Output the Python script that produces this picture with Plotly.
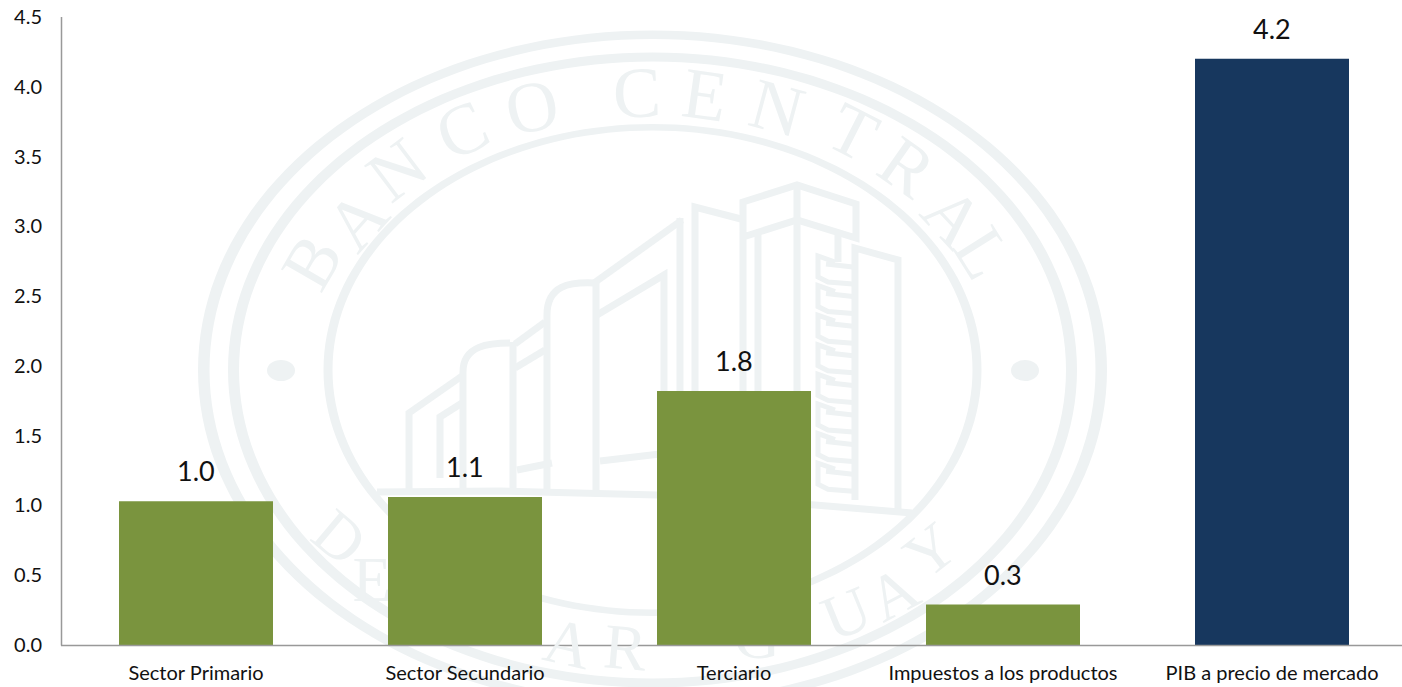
import numpy as np
import plotly.graph_objects as go

categories = ["Sector Primario", "Sector Secundario", "Terciario", "Impuestos a los productos", "PIB a precio de mercado"]
values = [1.03, 1.06, 1.82, 0.29, 4.20]
value_labels = ["1.0", "1.1", "1.8", "0.3", "4.2"]
bar_colors = ["#7A943E", "#7A943E", "#7A943E", "#7A943E", "#17375E"]
y_ticks = [0.0, 0.5, 1.0, 1.5, 2.0, 2.5, 3.0, 3.5, 4.0, 4.5]

W, H = 1402, 687
L, R, T, B = 62, 1402, 17, 645
MARK = "#EEF2F3"
AXIS = "#999999"
XR = [-0.5 - 0.5 / 269.0 + 1 / 269.0, -0.5 + 0.5 / 269.0 + (R - L) / 269.0]
YR = [0, 4.5]

def xp(px): return (px - L) / (R - L)
def yp(py): return (B - py) / (B - T)
def xd(px): return XR[0] + (px - L) / 269.0
def yd(py): return (B - py) / (B - T) * 4.5

def ring(rx1, ry1, rx2, ry2, cx=652.5, cy=370):
    t = np.linspace(0, 2 * np.pi, 181)
    path = ""
    for rx, ry in ((rx1, ry1), (rx2, ry2)):
        pts = [f"{xp(cx + rx * np.cos(a)):.5f},{yp(cy + ry * np.sin(a)):.5f}" for a in t]
        path += "M" + " L".join(pts) + " Z "
    return dict(type="path", xref="paper", yref="paper", path=path, layer="below",
                fillcolor=MARK, line=dict(width=0), fillrule="evenodd")

def poly(pts, width=7):
    path = "M" + " L".join(f"{xp(x):.5f},{yp(y):.5f}" for x, y in pts)
    return dict(type="path", xref="paper", yref="paper", path=path, layer="below",
                line=dict(color=MARK, width=width))

def curve(p0, c1, c2, p1, width=7):
    path = (f"M{xp(p0[0]):.5f},{yp(p0[1]):.5f} C{xp(c1[0]):.5f},{yp(c1[1]):.5f} "
            f"{xp(c2[0]):.5f},{yp(c2[1]):.5f} {xp(p1[0]):.5f},{yp(p1[1]):.5f}")
    return dict(type="path", xref="paper", yref="paper", path=path, layer="below",
                line=dict(color=MARK, width=width))

shapes = [ring(454.5, 339.5, 443, 331), ring(424.5, 317.5, 413.5, 308.5), ring(329, 246, 320, 239.5)]
for cx in (281, 1025):
    shapes.append(dict(type="circle", xref="paper", yref="paper", layer="below",
                       x0=xp(cx - 14), x1=xp(cx + 14), y0=yp(381), y1=yp(360),
                       fillcolor=MARK, line=dict(width=0)))

building = [
    [(409, 490), (409, 413), (462, 376)],
    [(440, 478), (440, 417), (462, 403)],
    [(463, 490), (463, 372)],
    [(513, 490), (513, 342)],
    [(515, 344), (545, 322)], [(515, 368), (545, 350)],
    [(547, 490), (547, 315)],
    [(596, 490), (596, 283)],
    [(594, 283), (682, 220)],
    [(597, 315), (664, 275), (664, 490)],
    [(680, 218), (680, 490)],
    [(695, 495), (695, 207), (741, 219)],
    [(743, 495), (743, 202), (797, 185), (856, 204), (856, 238), (797, 220), (743, 237)],
    [(758, 232), (758, 495)],
    [(797, 187), (797, 497)],
    [(838, 232), (838, 262)],
    [(855, 500), (855, 248), (898, 260), (898, 512)],
    [(600, 461), (660, 454)],
    [(517, 470), (552, 463)],
    [(377, 492), (500, 491), (657, 495), (815, 505), (912, 513)],
]
shapes += [poly(b) for b in building]
shapes.append(curve((463, 372), (463, 345), (490, 343), (510, 343)))
shapes.append(curve((547, 315), (547, 285), (570, 282), (594, 283)))
for i in range(8):
    y0 = 255 + 29.6 * i
    shapes.append(poly([(835, y0 + 7), (818, y0 + 1), (818, y0 + 22), (828, y0 + 27), (853, y0 + 29)], 5))
    shapes.append(poly([(826, y0 + 9), (853, y0 + 12)], 5))

# axis lines
shapes.append(dict(type="line", xref="paper", yref="paper", layer="above", x0=xp(61.5), x1=xp(61.5),
                   y0=yp(645.5), y1=1, line=dict(color=AXIS, width=1.5)))
shapes.append(dict(type="line", xref="paper", yref="paper", layer="above", x0=xp(61), x1=1,
                   y0=yp(645.5), y1=yp(645.5), line=dict(color=AXIS, width=1.5)))

fig = go.Figure()
fig.add_trace(go.Bar(x=list(range(len(categories))), y=values, width=0.5725,
                     marker=dict(color=bar_colors, line=dict(width=0)), showlegend=False,
                     cliponaxis=False))

# letters of the seal that pass behind the bars
hidden_letters = [("E", 372, 585), ("L", 425, 610), ("P", 490, 630), ("A", 690, 650), ("G", 757, 642)]
fig.add_trace(go.Scatter(x=[xd(p[1]) for p in hidden_letters], y=[yd(p[2]) for p in hidden_letters],
                         text=[p[0] for p in hidden_letters], mode="text", textposition="middle center",
                         textfont=dict(family="Liberation Serif", size=64, color=MARK),
                         showlegend=False, cliponaxis=False, zorder=-1, hoverinfo="skip"))

seal_top = [
    ("B", 312, 262, -60), ("A", 357, 220, -48), ("N", 397, 170, -37), ("C", 462, 130, -25),
    ("O", 532, 107, -12), ("C", 637, 93, -2), ("E", 705, 95, 8), ("N", 777, 108, 15),
    ("T", 853, 132, 27), ("R", 907, 167, 35), ("A", 953, 217, 47), ("L", 983, 253, 58),
]
seal_bottom = [
    ("D", 340, 537, 40), ("A", 568, 643, 13), ("R", 625, 647, 5),
    ("U", 846, 613, -22), ("A", 893, 593, -28), ("Y", 930, 550, -38),
]
annotations = [dict(x=xp(x), y=yp(y), xref="paper", yref="paper", text=c, textangle=a, showarrow=False,
                    xanchor="center", yanchor="middle",
                    font=dict(family="Liberation Serif", size=72, color=MARK))
               for c, x, y, a in seal_top]
annotations += [dict(x=xp(x), y=yp(y), xref="paper", yref="paper", text=c, textangle=a, showarrow=False,
                     xanchor="center", yanchor="middle",
                     font=dict(family="Liberation Serif", size=64, color=MARK))
                for c, x, y, a in seal_bottom]
annotations += [dict(x=i, y=v, xref="x", yref="y", text=t, showarrow=False, xanchor="center",
                     yanchor="bottom", yshift=12, font=dict(family="Lato", size=27, color="#111111"))
                for i, (v, t) in enumerate(zip(values, value_labels))]

fig.update_layout(
    width=W, height=H, autosize=False, paper_bgcolor="white", plot_bgcolor="white",
    margin=dict(l=L, r=W - R, t=T, b=H - B, pad=0), shapes=shapes, annotations=annotations,
    showlegend=False, font=dict(family="Lato", color="#111111"),
    xaxis=dict(range=XR, tickvals=list(range(len(categories))), ticktext=categories, showgrid=False,
               zeroline=False, showline=False, ticks="",
               ticklabelstandoff=14, tickfont=dict(family="Lato", size=20, color="#111111")),
    yaxis=dict(range=YR, tickvals=y_ticks, tickformat=".1f", showgrid=False, zeroline=False,
               showline=False, ticks="", ticklabelstandoff=19,
               tickfont=dict(family="Lato", size=20, color="#111111")),
)
fig.write_html("out.html", config=dict(displayModeBar=False),
               post_script="document.body.style.margin='0';document.body.style.overflow='hidden';")
